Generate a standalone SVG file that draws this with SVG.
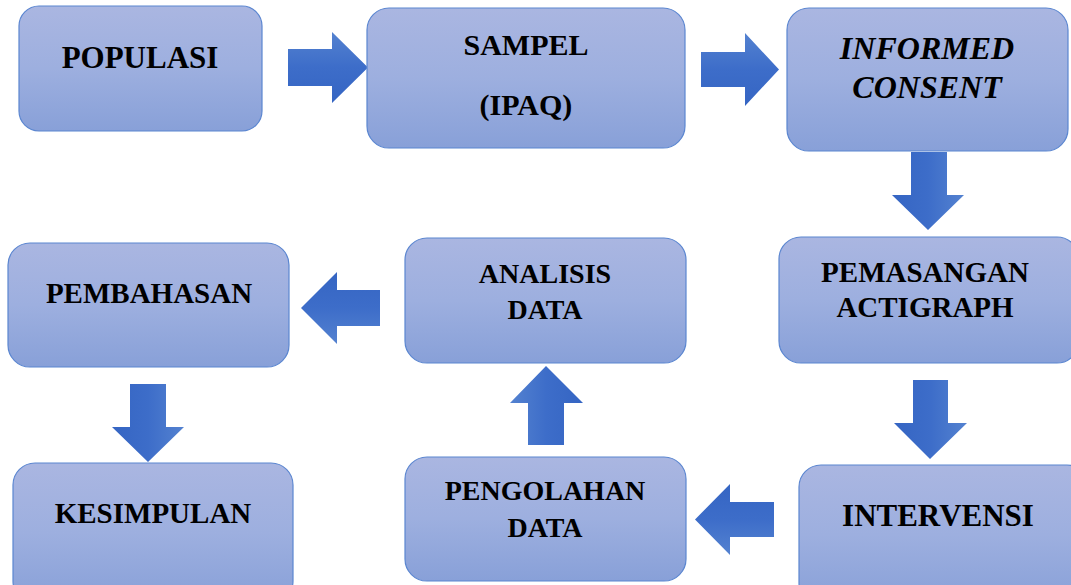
<svg xmlns="http://www.w3.org/2000/svg" width="1071" height="585" viewBox="0 0 1071 585">
  <defs>
    <linearGradient id="boxFill" x1="0" y1="0" x2="0" y2="1">
      <stop offset="0" stop-color="#aab6e1"/>
      <stop offset="0.5" stop-color="#9dafdf"/>
      <stop offset="1" stop-color="#88a0d8"/>
    </linearGradient>
    <!-- arrow shading: light on one side, deep blue on the other -->
    <linearGradient id="arrRight" x1="0" y1="0" x2="0" y2="1">
      <stop offset="0" stop-color="#5482d0"/>
      <stop offset="0.5" stop-color="#3d6dc9"/>
      <stop offset="1" stop-color="#3565c3"/>
    </linearGradient>
    <linearGradient id="arrLeft" x1="0" y1="0" x2="0" y2="1">
      <stop offset="0" stop-color="#3565c3"/>
      <stop offset="0.5" stop-color="#3d6dc9"/>
      <stop offset="1" stop-color="#5482d0"/>
    </linearGradient>
    <linearGradient id="arrDown" x1="0" y1="0" x2="1" y2="0">
      <stop offset="0" stop-color="#3565c3"/>
      <stop offset="0.5" stop-color="#3d6dc9"/>
      <stop offset="1" stop-color="#5482d0"/>
    </linearGradient>
    <linearGradient id="arrUp" x1="0" y1="0" x2="1" y2="0">
      <stop offset="0" stop-color="#5482d0"/>
      <stop offset="0.5" stop-color="#3d6dc9"/>
      <stop offset="1" stop-color="#3565c3"/>
    </linearGradient>
  </defs>
  <style>
    .box { fill: url(#boxFill); stroke: #5b86d0; stroke-width: 1.2; }
    .lbl { font-family: "Liberation Serif", "Times New Roman", serif; font-weight: bold; fill: #000; text-anchor: middle; }
    .it { font-style: italic; }
  </style>
  <rect width="1071" height="585" fill="#ffffff"/>

  <g id="connectors">
    <path d="M288,49 H332 V32 L368,67.5 L332,103 V86 H288 Z" fill="url(#arrRight)"/>
    <path d="M701,52 H745 V33 L779,69.5 L745,106 V87 H701 Z" fill="url(#arrRight)"/>
    <path d="M911,152 H947 V195 H964 L928,230 L892,195 H911 Z" fill="url(#arrDown)"/>
    <path d="M913,380 H948 V423 H967 L930,459 L894,423 H913 Z" fill="url(#arrDown)"/>
    <path d="M774,502 V537 H730 V555 L695,519.5 L730,484 V502 Z" fill="url(#arrLeft)"/>
    <path d="M528,445 V403 H510 L546,366 L583,403 H564 V445 Z" fill="url(#arrUp)"/>
    <path d="M380,290 V326 H337 V344 L301,308 L337,272 V290 Z" fill="url(#arrLeft)"/>
    <path d="M130,384 H166 V427 H184 L148,462 L112,427 H130 Z" fill="url(#arrDown)"/>
  </g>

  <g id="populasi">
    <rect class="box" x="19" y="6" width="243" height="125" rx="20"/>
    <text class="lbl" x="140" y="68" font-size="31">POPULASI</text>
  </g>
  <g id="sampel">
    <rect class="box" x="367" y="8" width="318" height="140" rx="22"/>
    <text class="lbl" x="526" y="55" font-size="30">SAMPEL</text>
    <text class="lbl" x="526" y="115" font-size="30">(IPAQ)</text>
  </g>
  <g id="informed-consent">
    <rect class="box" x="787" y="8" width="281" height="143" rx="22"/>
    <text class="lbl it" x="927" y="59" font-size="32">INFORMED</text>
    <text class="lbl it" x="927" y="98" font-size="32">CONSENT</text>
  </g>
  <g id="pemasangan-actigraph">
    <rect class="box" x="779" y="237" width="300" height="126" rx="22"/>
    <text class="lbl" x="925" y="282" font-size="29">PEMASANGAN</text>
    <text class="lbl" x="925" y="317" font-size="29">ACTIGRAPH</text>
  </g>
  <g id="intervensi">
    <rect class="box" x="799" y="465" width="290" height="140" rx="22"/>
    <text class="lbl" x="938" y="526" font-size="31">INTERVENSI</text>
  </g>
  <g id="pengolahan-data">
    <rect class="box" x="405" y="457" width="281" height="124" rx="22"/>
    <text class="lbl" x="545" y="500" font-size="28">PENGOLAHAN</text>
    <text class="lbl" x="545" y="537" font-size="28">DATA</text>
  </g>
  <g id="analisis-data">
    <rect class="box" x="405" y="238" width="281" height="125" rx="22"/>
    <text class="lbl" x="545" y="283" font-size="28">ANALISIS</text>
    <text class="lbl" x="545" y="319" font-size="28">DATA</text>
  </g>
  <g id="pembahasan">
    <rect class="box" x="8" y="243" width="281" height="124" rx="22"/>
    <text class="lbl" x="149" y="303" font-size="29">PEMBAHASAN</text>
  </g>
  <g id="kesimpulan">
    <rect class="box" x="13" y="463" width="280" height="140" rx="22"/>
    <text class="lbl" x="153" y="523" font-size="29">KESIMPULAN</text>
  </g>
</svg>
